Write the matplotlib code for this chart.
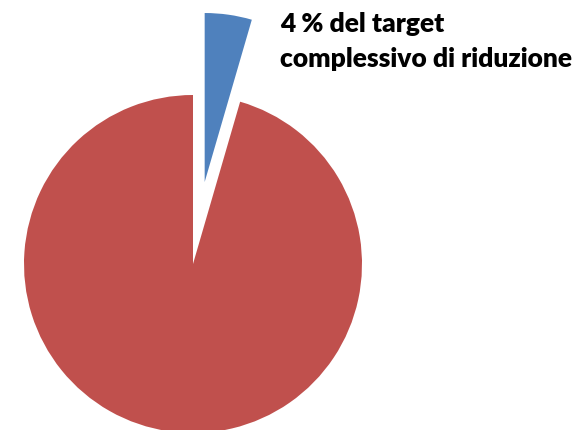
import matplotlib
matplotlib.use("Agg")
import matplotlib.pyplot as plt

# data
labels = ["target", "resto"]
values = [4.5, 95.5]
colors = ["#4F81BD", "#C0504D"]
explode = [0.49, 0.0]
line1 = "4 % del target"
line2 = "complessivo di riduzione"

W, H = 585, 431
fig = plt.figure(figsize=(W / 100, H / 100), dpi=100)
ax = fig.add_axes([0, 0, 1, 1])

R = 169.0  # pie radius in px
cx, cy = 193.0, 431 - 265.0  # pie centre in px (from bottom)

ax.pie(values, colors=colors, explode=explode, startangle=90,
       counterclock=False, radius=1.0, center=(0, 0),
       wedgeprops=dict(linewidth=0))
ax.set_xlim(-cx / R, (W - cx) / R)
ax.set_ylim(-cy / R, (H - cy) / R)
ax.set_aspect("equal")
ax.axis("off")

fig.text(280 / W, (H - 32) / H, line1, fontsize=19, fontweight="heavy",
         family=["Lato", "DejaVu Sans"], va="baseline", ha="left")
fig.text(280 / W, (H - 67) / H, line2, fontsize=19, fontweight="heavy",
         family=["Lato", "DejaVu Sans"], va="baseline", ha="left")

fig.savefig("out.png", dpi=100)
